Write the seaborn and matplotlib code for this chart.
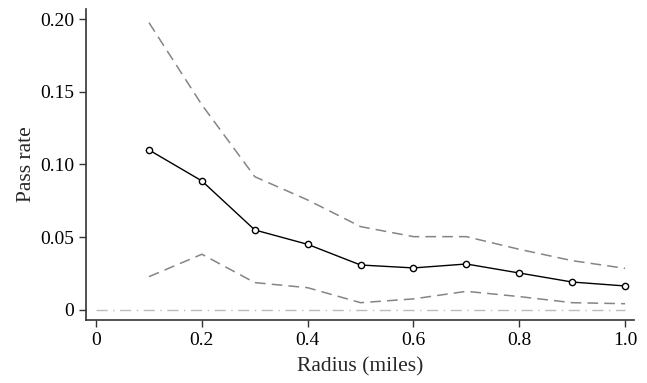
import numpy as np
import pandas as pd
import matplotlib
matplotlib.use("Agg")
import matplotlib.pyplot as plt
import seaborn as sns

radius = [0.1, 0.2, 0.3, 0.4, 0.5, 0.6, 0.7, 0.8, 0.9, 1.0]
pass_rate = [0.110, 0.0887, 0.055, 0.0451, 0.0309, 0.0289, 0.0316, 0.0254, 0.0192, 0.0165]
upper = [0.1975, 0.141, 0.0916, 0.0756, 0.0573, 0.0504, 0.0504, 0.0417, 0.0339, 0.0286]
lower = [0.0229, 0.0383, 0.0188, 0.0153, 0.0050, 0.0076, 0.0128, 0.0092, 0.0050, 0.0043]

zero_x = [0.0, 1.0]
zero_y = [0.0, 0.0]

xticks = [0, 0.2, 0.4, 0.6, 0.8, 1.0]
xticklabels = ["0", "0.2", "0.4", "0.6", "0.8", "1.0"]
yticks = [0, 0.05, 0.10, 0.15, 0.20]
yticklabels = ["0", "0.05", "0.10", "0.15", "0.20"]

sns.set_style("ticks")
plt.rcParams["font.family"] = ["Liberation Serif", "DejaVu Serif"]
plt.rcParams["font.size"] = 14

df = pd.DataFrame({"radius": radius, "rate": pass_rate, "upper": upper, "lower": lower})

fig = plt.figure(figsize=(6.47, 3.83), dpi=100)
ax = fig.add_axes([0.133, 0.1645, 0.847, 0.812])

# zero reference line
sns.lineplot(x=zero_x, y=zero_y, ax=ax, color="#bbbbbb", linewidth=1.0,
             linestyle=(0, (8, 4, 1, 4)))

# confidence bounds
sns.lineplot(data=df, x="radius", y="upper", ax=ax, color="#858585",
             linewidth=1.1, linestyle=(0, (7, 4)))
sns.lineplot(data=df, x="radius", y="lower", ax=ax, color="#858585",
             linewidth=1.1, linestyle=(0, (7, 4)))

# point estimate
sns.lineplot(data=df, x="radius", y="rate", ax=ax, color="black", linewidth=1.0,
             marker="o", markersize=4.5, markerfacecolor="white",
             markeredgecolor="black", markeredgewidth=1.0)

ax.set_xlim(-0.019, 1.017)
ax.set_ylim(-0.0069, 0.2069)
ax.set_xticks(xticks)
ax.set_xticklabels(xticklabels, fontsize=14)
ax.set_yticks(yticks)
ax.set_yticklabels(yticklabels, fontsize=14)
ax.set_xlabel("Radius (miles)", fontsize=15.5, labelpad=6)
ax.set_ylabel("Pass rate", fontsize=15.5, labelpad=3)

sns.despine(ax=ax)
for s in ["left", "bottom"]:
    ax.spines[s].set_color("#333333")
    ax.spines[s].set_linewidth(1.2)
ax.tick_params(colors="#333333", labelcolor="black", length=5, width=1.0)

fig.savefig("out.png", dpi=100)
